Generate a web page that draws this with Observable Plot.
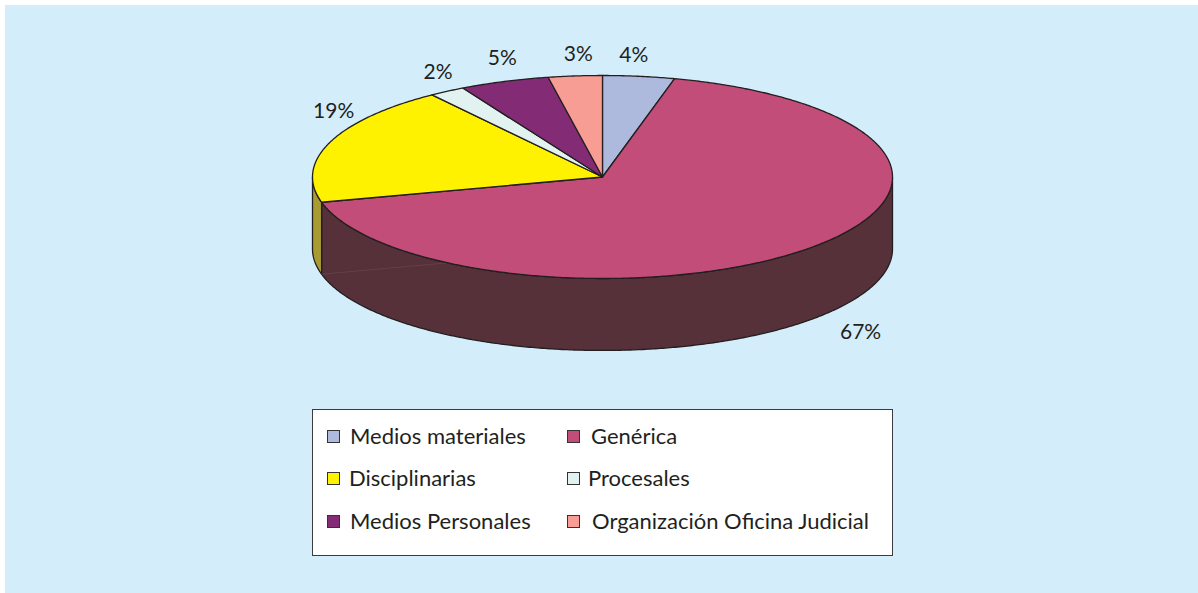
<!DOCTYPE html>
<html lang="es">
<head>
<meta charset="utf-8">
<script src="https://cdn.jsdelivr.net/npm/d3@7"></script>
<script src="https://cdn.jsdelivr.net/npm/@observablehq/plot@0.6"></script>
<style>
  html, body { margin: 0; padding: 0; background: #fff; }
  #page { position: relative; width: 1198px; height: 593px; overflow: hidden; }
  #panel { position: absolute; left: 5px; top: 5px; right: 0; bottom: 0; background: #D4EDFB; }
  #chart { position: absolute; left: 0; top: 0; }
  #legend { position: absolute; left: 312px; top: 409px; width: 579px; height: 145px;
            background: #fff; border: 1px solid #3c3c3c; }
  .sw { position: absolute; width: 11px; height: 11px; border: 1px solid #333; }
  .lb { position: absolute; font: 22px Lato, sans-serif; color: #231f20; line-height: 24px; white-space: nowrap; }
</style>
</head>
<body>
<div id="page"><div id="panel"></div><div id="chart"></div><div id="legend"></div></div>
<script>
const categories = ["Medios materiales", "Genérica", "Disciplinarias", "Procesales", "Medios Personales", "Organización Oficina Judicial"];
const shares = [4, 67, 19, 2, 5, 3];
const labels = ["4%", "67%", "19%", "2%", "5%", "3%"];
const topColors = ["#ADBADD", "#C24D79", "#FFF200", "#E1F2F1", "#842B76", "#F89D93"];
const sideColors = { 1: "#563139", 2: "#A99B34" };

const ink = "#231f20";
const depth = 0.709;           // wall height, in units of the vertical radius
const rad = d => d * Math.PI / 180;
const rim = (deg, drop = 0) => ({ x: Math.sin(rad(deg)), y: Math.cos(rad(deg)) - drop });
const sweep = (a, b) => d3.range(a, b, 0.5).concat([b]);

// slice start / end angles from the shares
let acc = 0;
const slices = shares.map((v, i) => {
  const a = acc * 3.6; acc += v;
  return { i, a, b: acc * 3.6, mid: (a + acc * 3.6) / 2 };
});

const marks = [];
const poly = (pts, fill, w = 1.3) => Plot.line(pts, {
  x: "x", y: "y", curve: "linear-closed", fill, stroke: ink, strokeWidth: w, strokeLinejoin: "round"
});

// walls (front half of the rim only)
for (const s of slices) {
  if (!(s.i in sideColors)) continue;
  const a = Math.max(s.a, 90), b = Math.min(s.b, 270);
  const top = sweep(a, b).map(d => rim(d));
  const bottom = sweep(a, b).reverse().map(d => rim(d, depth));
  marks.push(poly([...top, ...bottom], sideColors[s.i]));
}
// faint bottom radius seen through the wall
const seam = slices[1].b;
marks.push(Plot.line([rim(seam, depth), { x: 0, y: -depth }], {
  x: "x", y: "y", stroke: "#6a4650", strokeWidth: 0.7
}));
// top faces
for (const s of slices) {
  marks.push(poly([{ x: 0, y: 0 }, ...sweep(s.a, s.b).map(d => rim(d))], topColors[s.i]));
}
// value labels: anchored on each slice's rim, nudged clear of the pie
const nudge = [[-5, -21], [53, 12], [4, -31], [-9, -19], [-2, -23], [3, -22]];
slices.forEach((s, i) => {
  const drop = s.mid > 90 && s.mid < 270 ? depth : 0;
  marks.push(Plot.text([rim(s.mid, drop)], {
    x: "x", y: "y", text: () => labels[i], dx: nudge[i][0], dy: nudge[i][1],
    fontSize: 21, fontFamily: "Lato, sans-serif", fill: ink
  }));
});

const svg = Plot.plot({
  width: 1198, height: 405,
  margin: 0,
  style: { background: "transparent" },
  x: { domain: [-1, 1], range: [312, 892], axis: null },
  y: { domain: [1, -1], range: [75, 278], axis: null },
  marks
});
document.getElementById("chart").append(svg);

// legend
const legend = document.getElementById("legend");
const rows = [27, 69, 112], swCols = [15, 255];
const textLeft = [38, 279, 37, 276, 38, 280];
categories.forEach((c, i) => {
  const row = rows[Math.floor(i / 2)], col = swCols[i % 2];
  const sw = document.createElement("div");
  sw.className = "sw";
  sw.style.cssText = `left:${col - 1}px;top:${row - 7}px;background:${topColors[i]}`;
  legend.append(sw);
  const lb = document.createElement("div");
  lb.className = "lb";
  lb.textContent = c;
  lb.style.cssText = `left:${textLeft[i] - 1}px;top:${row - 13}px`;
  legend.append(lb);
});
</script>
</body>
</html>
